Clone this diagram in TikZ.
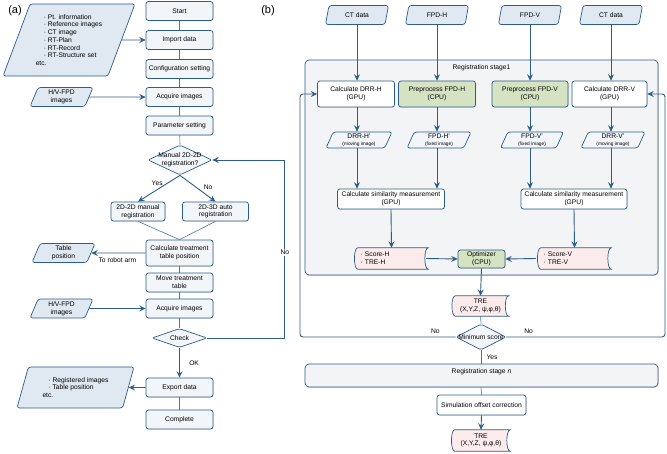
\documentclass[tikz,border=0pt]{standalone}
\usepackage{fontspec}
\setmainfont{Liberation Sans}
\usetikzlibrary{positioning,arrows.meta,shapes.geometric,backgrounds,shadows}

\definecolor{lineblue}{HTML}{2E5C8A}
\definecolor{boxfill}{HTML}{F3F6F9}
\definecolor{datafill}{HTML}{E0E8F1}
\definecolor{cpufill}{HTML}{D5E3C3}
\definecolor{resfill}{HTML}{FBECEB}
\definecolor{stagefill}{HTML}{F3F4F6}

\tikzset{
	proc/.style={draw=lineblue, fill=boxfill, rounded corners=2.5pt, line width=0.7pt,
		align=center, inner sep=1pt, minimum height=19pt,
		drop shadow={shadow xshift=0.6pt, shadow yshift=-0.6pt, opacity=0.25}},
	gpu/.style={proc, fill=white},
	cpu/.style={proc, fill=cpufill},
	data/.style={trapezium, trapezium left angle=63, trapezium right angle=117,
		trapezium stretches body, draw=lineblue, fill=datafill, rounded corners=2.5pt,
		line width=0.7pt, align=center, inner sep=1pt, minimum height=19pt},
	imgdata/.style={data, fill=white!60!datafill},
	decision/.style={diamond, draw=lineblue, fill=boxfill, rounded corners=2pt,
		line width=0.7pt, inner sep=0pt},
	result/.style={rectangle, align=left, inner sep=1pt},
	stage/.style={draw=lineblue, fill=stagefill, rounded corners=4pt, line width=0.7pt,
		drop shadow={shadow xshift=0.8pt, shadow yshift=-0.8pt, opacity=0.3}},
	store/.style={draw=lineblue, fill=resfill, line width=0.7pt},
	arr/.style={draw=lineblue, line width=0.9pt, -{Stealth[length=6.5pt,width=6pt,inset=2.5pt]}},
	conn/.style={draw=lineblue!85, line width=0.6pt},
	small/.style={font=\fontsize{4.8}{5.5}\selectfont}
}

\begin{document}
\begin{tikzpicture}[x=1pt, y=-1pt, font=\fontsize{6.7}{7.7}\selectfont]
	\useasboundingbox (0,0) rectangle (667,454);

	% (a)
	\node[font=\fontsize{11}{12}\selectfont] (lbla) at (15,11) {(a)};
	\node[proc, minimum width=67pt] (start) at (179.5,11) {Start};
	\node[proc, minimum width=67pt] (imp) at (179.5,40) {Import data};
	\node[proc, minimum width=67pt] (conf) at (179.5,69) {Configuration setting};
	\node[proc, minimum width=67pt] (acq1) at (179.5,97) {Acquire images};
	\node[proc, minimum width=67pt] (par) at (179.5,125.5) {Parameter setting};
	\node[decision, minimum width=64pt, minimum height=30pt,
		label={[align=center]center:Manual 2D-2D\\registration?}] (man) at (180,160) {};
	\node[proc, minimum width=54pt] (man2d) at (138,211.5) {2D-2D manual\\registration};
	\node[proc, minimum width=66pt] (auto3d) at (215.5,211.5) {2D-3D auto\\registration};
	\node[proc, minimum width=67pt, minimum height=26pt] (calc) at (179.5,253) {Calculate treatment\\table position};
	\node[proc, minimum width=67pt] (move) at (179.5,282.5) {Move treatment\\table};
	\node[proc, minimum width=67pt] (acq2) at (179.5,308.5) {Acquire images};
	\node[decision, minimum width=55pt, minimum height=19pt,
		label={center:Check}] (check) at (179.5,338) {};
	\node[proc, minimum width=67pt] (exp) at (179.5,387.5) {Export data};
	\node[proc, minimum width=67pt] (comp) at (179.5,419.5) {Complete};

	\node[data, minimum width=132pt, minimum height=72pt, align=left] (ptinfo) at (69,40)
		{\hspace*{8pt}· Pt. information\\\hspace*{8pt}· Reference images\\\hspace*{8pt}· CT image\\
		 \hspace*{8pt}· RT-Plan\\\hspace*{8pt}· RT-Record\\\hspace*{8pt}· RT-Structure set\\etc.};
	\node[data, minimum width=63pt] (fpd1) at (61.5,97) {H/V-FPD\\images};
	\node[data, minimum width=63pt] (tablepos) at (63.5,253) {Table\\position};
	\node[data, minimum width=63pt] (fpd2) at (61.5,308.5) {H/V-FPD\\images};
	\node[data, minimum width=117pt, minimum height=41pt, align=left] (outdata) at (75.5,387.5)
		{\hspace*{6pt}· Registered images\\\hspace*{6pt}· Table position\\etc.};

	\draw[conn] (start) -- (imp);
	\draw[conn] (imp) -- (conf);
	\draw[conn] (conf) -- (acq1);
	\draw[conn] (acq1) -- (par);
	\draw[conn] (par) -- (man.north);
	\draw[arr] (man.south) -- node[left=1pt, pos=0.3] {Yes} (man2d.north);
	\draw[arr] (man.south) -- node[right=4pt, pos=0.45] {No} (auto3d.north);
	\draw[conn] (man2d.south) -- (calc.north);
	\draw[conn] (auto3d.south) -- (calc.north);
	\draw[conn] (calc) -- (move);
	\draw[conn] (move) -- (acq2);
	\draw[conn] (acq2) -- (check.north);
	\draw[arr] (check.south) -- node[right=6pt] {OK} (exp.north);
	\draw[conn] (exp) -- (comp);
	\draw[arr] (ptinfo.east) -- (imp.west);
	\draw[arr] (fpd1.east) -- (acq1.west);
	\draw[arr] (fpd2.east) -- (acq2.west);
	\draw[arr] (calc.west) -- node[below=1pt, pos=0.52] {To robot arm} (tablepos.east);
	\draw[arr] (exp.west) -- (outdata.east);
	\draw[arr] (check.east) -- ++(77.5,0) |- node[pos=0.24, fill=white, inner sep=1pt] {No} (man.east);

	% (b)
	\node[font=\fontsize{11}{12}\selectfont] (lblb) at (268,11) {(b)};
	\node[data, minimum width=63pt] (cth) at (357,15) {CT data};
	\node[data, minimum width=63pt] (fpdh) at (437,15) {FPD-H};
	\node[data, minimum width=63pt] (fpdv) at (530,15) {FPD-V};
	\node[data, minimum width=63pt] (ctv) at (611,15) {CT data};

	\node[gpu, minimum width=77pt, minimum height=26pt] (drrh) at (356,94) {Calculate DRR-H\\(GPU)};
	\node[cpu, minimum width=77pt, minimum height=26pt] (preh) at (437,94) {Preprocess FPD-H\\(CPU)};
	\node[cpu, minimum width=76pt, minimum height=26pt] (prev) at (530,94) {Preprocess FPD-V\\(CPU)};
	\node[gpu, minimum width=75pt, minimum height=26pt] (drrv) at (609.5,94) {Calculate DRR-V\\(GPU)};

	\node[imgdata, minimum width=66pt, minimum height=16pt] (drrhp) at (359,140) {DRR-H'\\[-1pt]{\fontsize{4.8}{5.5}\selectfont(moving image)}};
	\node[imgdata, minimum width=64pt, minimum height=16pt] (fpdhp) at (439,140) {FPD-H'\\[-1pt]{\fontsize{4.8}{5.5}\selectfont(fixed image)}};
	\node[imgdata, minimum width=63pt, minimum height=16pt] (fpdvp) at (532,140) {FPD-V'\\[-1pt]{\fontsize{4.8}{5.5}\selectfont(fixed image)}};
	\node[imgdata, minimum width=64pt, minimum height=16pt] (drrvp) at (613,140) {DRR-V'\\[-1pt]{\fontsize{4.8}{5.5}\selectfont(moving image)}};

	\node[proc, fill=white, minimum width=107pt, minimum height=20pt] (simh) at (391,199) {Calculate similarity measurement\\(GPU)};
	\node[proc, fill=white, minimum width=106pt, minimum height=20pt] (simv) at (574,199) {Calculate similarity measurement\\(GPU)};

	\node[result, minimum width=73pt, minimum height=21pt, text width=62pt] (scoreh) at (391.5,258.5) {· Score-H\\· TRE-H};
	\node[result, minimum width=73pt, minimum height=21pt, text width=62pt] (scorev) at (574.5,258.5) {· Score-V\\· TRE-V};
	\node[cpu, minimum width=47pt, minimum height=18pt] (opt) at (481.5,259) {Optimizer\\(CPU)};
	\node[result, align=center, minimum width=56pt, minimum height=20pt] (trem) at (480.5,306) {TRE\\(X,Y,Z, ψ,φ,θ)};
	\node[decision, minimum width=50pt, minimum height=26pt,
		label={center:Minimum score}] (minscore) at (481,337) {};
	\node[proc, fill=white, minimum width=89pt, minimum height=20pt] (simoff) at (481.5,405) {Simulation offset correction};
	\node[result, align=center, minimum width=58pt, minimum height=21pt] (tref) at (481,440.5) {TRE\\(X,Y,Z, ψ,φ,θ)};

	\draw[arr] (cth.south) -- (cth.south |- drrh.north);
	\draw[arr] (fpdh.south) -- (fpdh.south |- preh.north);
	\draw[arr] (fpdv.south) -- (fpdv.south |- prev.north);
	\draw[arr] (ctv.south) -- (ctv.south |- drrv.north);
	\draw[arr] (drrh.south -| cth) -- (drrhp.north -| cth);
	\draw[arr] (preh.south) -- (preh.south |- fpdhp.north);
	\draw[arr] (prev.south) -- (prev.south |- fpdvp.north);
	\draw[arr] (drrv.south -| ctv) -- (drrvp.north -| ctv);
	\draw[arr] (drrhp.south -| cth) -- (simh.north -| cth);
	\draw[arr] (fpdhp.south -| fpdh) -- (simh.north -| fpdh);
	\draw[arr] (fpdvp.south -| fpdv) -- (simv.north -| fpdv);
	\draw[arr] (drrvp.south -| ctv) -- (simv.north -| ctv);
	\draw[arr] (simh.south) -- (scoreh.north);
	\draw[arr] (simv.south) -- (scorev.north);
	\draw[arr] ([xshift=-2pt]scoreh.east) -- (opt.west);
	\draw[arr] ([xshift=-2pt]scorev.west) -- (opt.east);
	\draw[arr] (opt.south) -- (trem.north);
	\draw[conn] (trem.south) -- (minscore.north);
	\draw[conn] (minscore.south) -- node[right=2pt] {Yes} (minscore.south |- 0,364);
	\draw[conn] (481,387) -- (simoff.north);
	\draw[arr] (simoff.south) -- (tref.north);

	\coordinate (fbl) at (300,337);
	\coordinate (fbr) at (665,337);
	\draw[arr, rounded corners=3pt] (minscore.west) -- node[above, pos=0.13] {No} (fbl) |- (drrh.west);
	\draw[arr, rounded corners=3pt] (minscore.east) -- node[above, pos=0.14] {No} (fbr) |- (drrv.east);

	\begin{scope}[on background layer]
		\node[stage, minimum width=353pt, minimum height=215pt,
			label={[anchor=north, yshift=-1pt]north:Registration stage1}] (stage1) at (481.5,167.5) {};
		\node[stage, minimum width=353pt, minimum height=23pt,
			label={[anchor=north, yshift=-1pt]north:Registration stage \textit{n}}] (stagen) at (481.5,375.5) {};
		\foreach \n in {scoreh,scorev,trem,tref}
			\draw[store] ([xshift=3pt]\n.north west) .. controls ([xshift=-1.5pt]\n.north west) and ([xshift=-1.5pt]\n.south west) .. ([xshift=3pt]\n.south west)
				-- (\n.south east) .. controls ([xshift=-4.5pt]\n.south east) and ([xshift=-4.5pt]\n.north east) .. (\n.north east) -- cycle;
	\end{scope}
\end{tikzpicture}
\end{document}
